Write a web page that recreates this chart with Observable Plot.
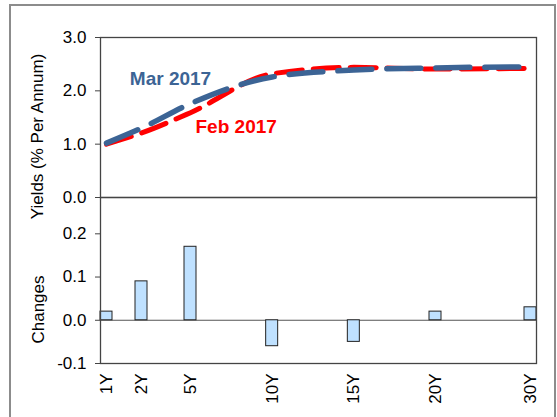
<!DOCTYPE html>
<html><head><meta charset="utf-8">
<script src="https://cdn.jsdelivr.net/npm/d3@7"></script>
<script src="https://cdn.jsdelivr.net/npm/@observablehq/plot@0.6"></script>
<style>
body{margin:0;background:#fff;}
#wrap{position:relative;width:557px;height:417px;overflow:hidden;font-family:"Liberation Sans",Arial,sans-serif;}
#border{position:absolute;left:9px;top:4px;width:543px;height:440px;border:2px solid #8c8c8c;}
#wrap svg{position:absolute;left:0;top:0;}
</style></head><body><div id="wrap"><div id="border"></div></div>
<script>
// ---- data ----
const tenors = [1, 2, 5, 10, 15, 20, 30];
const tenorLabels = ["1Y", "2Y", "5Y", "10Y", "15Y", "20Y", "30Y"];
const feb2017 = [1.00, 1.21, 1.59, 2.32, 2.44, 2.41, 2.42];
const mar2017 = [1.02, 1.30, 1.76, 2.26, 2.39, 2.43, 2.45];
const changes = [0.02, 0.09, 0.17, -0.06, -0.05, 0.02, 0.03];
const seriesNames = ["Feb 2017", "Mar 2017"];
const yieldTicks = [0, 1, 2, 3];
const changeTicks = [-0.1, 0, 0.1, 0.2];
const yieldTitle = "Yields (% Per Annum)";
const changeTitle = "Changes";

const rows = tenors.map((t, i) => ({tenor: t, label: tenorLabels[i], feb: feb2017[i], mar: mar2017[i], change: changes[i]}));
const labelOf = new Map(tenors.map((t, i) => [t, tenorLabels[i]]));

const W = 557, H = 417;
const FONT = "Liberation Sans, Arial, sans-serif";
const BLUE = "#3c6495", RED = "#ff0000";
const xScale = {type: "linear", domain: [1, 2, 20, 30], range: [106, 141, 435, 530], label: null};
const fmt = d => d.toFixed(1);
const style = {fontFamily: FONT, fontSize: "17px", background: "transparent", overflow: "visible", color: "#000"};

const topPlot = Plot.plot({
  width: W, height: H,
  marginLeft: 100, marginRight: 21, marginTop: 37, marginBottom: 220,
  style,
  x: {...xScale, axis: null},
  y: {domain: [0, 3], label: null},
  marks: [
    Plot.frame({stroke: "#444", strokeWidth: 1.3}),
    Plot.axisY({ticks: yieldTicks, tickFormat: fmt, tickSize: 5, tickPadding: 9, fontSize: 17, label: null, stroke: "#444"}),
    Plot.line(rows, {x: "tenor", y: "feb", stroke: RED, strokeWidth: 5, strokeDasharray: "26,11", curve: "monotone-x"}),
    Plot.line(rows, {x: "tenor", y: "mar", stroke: BLUE, strokeWidth: 5.5, strokeDasharray: "34,15", strokeLinecap: "round", strokeLinejoin: "round", curve: "monotone-x"}),
    Plot.text([rows[1]], {x: "tenor", y: "mar", text: () => seriesNames[1], fill: BLUE, fontWeight: "bold", fontSize: 19, dx: 29, dy: -49}),
    Plot.text([rows[3]], {x: "tenor", y: "feb", text: () => seriesNames[0], fill: RED, fontWeight: "bold", fontSize: 19, dx: -36, dy: 53}),
    Plot.text([yieldTitle], {frameAnchor: "left", textAnchor: "middle", rotate: -90, dx: -63, dy: 19, fontSize: 17})
  ]
});

const bottomPlot = Plot.plot({
  width: W, height: H,
  marginLeft: 100, marginRight: 21, marginTop: 197, marginBottom: 54,
  style,
  x: xScale,
  y: {domain: [-0.1, 0.284], label: null},
  marks: [
    Plot.ruleY([0], {stroke: "#555", strokeWidth: 1.2}),
    Plot.rect(rows, {x1: "tenor", x2: "tenor", y1: () => 0, y2: "change", insetLeft: -6, insetRight: -6, fill: "#bfe1ff", stroke: "#222", strokeWidth: 1}),
    Plot.frame({stroke: "#444", strokeWidth: 1.3}),
    Plot.axisY({ticks: changeTicks, tickFormat: fmt, tickSize: 5, tickPadding: 9, fontSize: 17, label: null, stroke: "#444"}),
    Plot.axisX({ticks: tenors, tickFormat: d => labelOf.get(d), tickRotate: -90, tickSize: 0, tickPadding: 10, fontSize: 17, label: null}),
    Plot.text([changeTitle], {frameAnchor: "left", textAnchor: "middle", rotate: -90, dx: -62, dy: 29, fontSize: 17})
  ]
});

const wrap = document.getElementById("wrap");
wrap.appendChild(topPlot);
wrap.appendChild(bottomPlot);
</script>
</body></html>
